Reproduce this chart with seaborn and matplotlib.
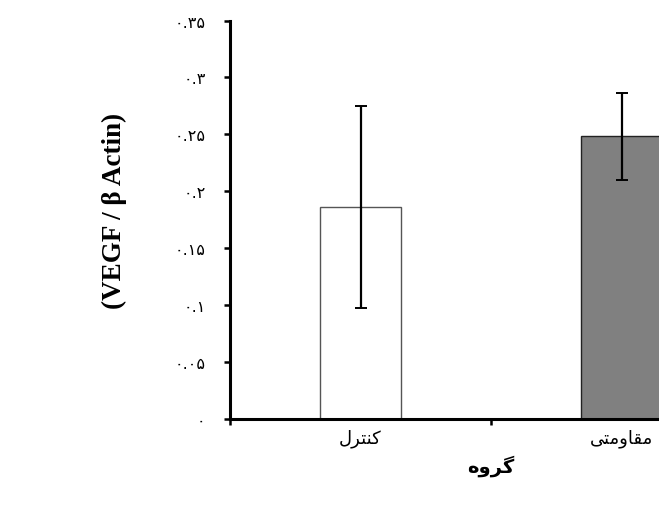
import matplotlib
matplotlib.use("Agg")
import matplotlib.pyplot as plt
import seaborn as sns
import pandas as pd

# Group names are given in visual (left-to-right) order using Arabic
# presentation forms, since matplotlib does not shape Arabic script.
groups = ["\uFEDD\uFEAE\uFE98\uFEE8\uFB90",            # کنترل
          "\uFBFD\uFE98\uFEE3\uFEED\uFE8E\uFED8\uFEE3"]  # مقاومتی
means = [0.186, 0.248]
errors = [0.089, 0.038]
bar_colors = ["#ffffff", "#808080"]
edge_colors = ["#555555", "#222222"]

ytick_values = [0, 0.05, 0.1, 0.15, 0.2, 0.25, 0.3, 0.35]
ytick_labels = ["\u06F0", "\u06F0.\u06F0\u06F5", "\u06F0.\u06F1", "\u06F0.\u06F1\u06F5",
                "\u06F0.\u06F2", "\u06F0.\u06F2\u06F5", "\u06F0.\u06F3", "\u06F0.\u06F3\u06F5"]
x_label = "\uFEE9\uFEED\uFEAE\uFB94"  # گروه
y_label = "(VEGF / \u03b2 Actin)"

df = pd.DataFrame({"group": groups, "value": means})

sns.set_theme(style="white")
plt.rcParams["font.family"] = ["DejaVu Sans"]
plt.rcParams["text.color"] = "black"
plt.rcParams["xtick.color"] = "black"
plt.rcParams["ytick.color"] = "black"

fig = plt.figure(figsize=(6.59, 5.06), dpi=100)
ax = fig.add_axes([230 / 659, 1 - 419.5 / 506, 522.5 / 659, 398 / 506])

sns.barplot(data=df, x="group", y="value", hue="group", palette=bar_colors,
            legend=False, width=0.3125, errorbar=None, ax=ax)
for patch, ec in zip(ax.patches, edge_colors):
    patch.set_edgecolor(ec)
    patch.set_linewidth(1.0)

ax.errorbar(range(len(groups)), means, yerr=errors, fmt="none", ecolor="black",
            elinewidth=1.6, capsize=4.2, capthick=1.4, zorder=5)

ax.set_xlim(-0.5, 1.5)
ax.set_ylim(0, 0.35)

ax.set_yticks(ytick_values)
ax.set_yticklabels(ytick_labels, fontsize=11.5, family="DejaVu Sans",
                   color="#111111")
ax.tick_params(axis="y", direction="out", length=4.5, width=1.8, pad=13,
               left=True, colors="black")

ax.set_xticks([0, 1])
ax.set_xticklabels(groups, fontsize=13, family="DejaVu Sans", color="black")
ax.tick_params(axis="x", which="major", length=0, pad=7)
ax.set_xticks([-0.5, 0.5, 1.5], minor=True)
ax.tick_params(axis="x", which="minor", direction="out", length=4, width=1.8,
               bottom=True)

for side in ["top", "right"]:
    ax.spines[side].set_visible(False)
for side in ["left", "bottom"]:
    ax.spines[side].set_visible(True)
    ax.spines[side].set_color("black")
    ax.spines[side].set_linewidth(2.2)

ax.set_xlabel("")
ax.set_ylabel("")
fig.text(491 / 659, 1 - 466 / 506, x_label, fontsize=14, fontweight="bold",
         ha="center", va="center", family="DejaVu Sans", color="black")
fig.text(114 / 659, 1 - 211 / 506, y_label, fontsize=19.5, fontweight="bold",
         rotation=90, ha="center", va="center", family="Liberation Serif",
         color="black")

fig.savefig("out.png", dpi=100)
